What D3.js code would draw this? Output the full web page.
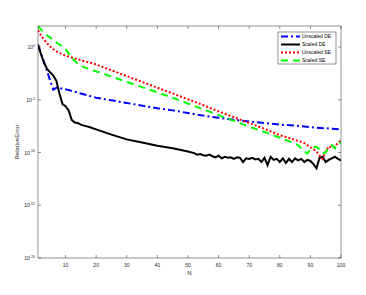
<!DOCTYPE html>
<html>
<head>
<meta charset="utf-8">
<script src="https://cdn.jsdelivr.net/npm/d3@7"></script>
<style>
  body { margin: 0; background: #fff; }
  svg { font-family: "Liberation Sans", Arial, sans-serif; }
</style>
</head>
<body>
<svg id="vis" width="366" height="295"></svg>
<script>
// values, stored as log10 of the relative error
const nUnscaledDE = [1, 2, 3, 4, 5, 6, 7, 8, 9, 10, 12, 15, 20, 25, 30, 35, 40, 45, 50, 55, 60, 65, 70, 75, 80, 85, 90, 95, 100];
const logUnscaledDE = [0.2, -0.6, -1.45, -2.3, -3.2, -4.05, -3.85, -3.9, -3.95, -4.0, -4.15, -4.4, -4.8, -5.05, -5.3, -5.55, -5.8, -6.0, -6.25, -6.5, -6.7, -6.9, -7.05, -7.2, -7.35, -7.45, -7.6, -7.7, -7.8];

const nScaledDE = [1, 2, 3, 4, 5, 6, 7, 8, 9, 10, 11, 12, 13, 14, 15, 16, 18, 20, 25, 30, 35, 40, 45, 50,
    52, 53, 54, 55, 56, 57, 58, 59, 60, 61, 62, 63, 64, 65, 66, 67, 68, 69, 70, 71, 72, 73, 74, 75, 76,
    77, 78, 79, 80, 81, 82, 83, 84, 85, 86, 87, 88, 89, 90, 91, 92, 93, 94, 95, 96, 97, 98, 99, 100];
const logScaledDE = [0.25, -0.7, -1.5, -2.1, -2.4, -2.7, -3.2, -4.4, -5.4, -5.6, -6.0, -6.9, -7.15, -7.2, -7.35, -7.45, -7.6, -7.8, -8.3, -8.75, -9.05, -9.35, -9.6, -9.9,
    -10.05, -10.2, -10.15, -10.25, -10.3, -10.2, -10.35, -10.45, -10.3, -10.55, -10.4, -10.5, -10.45, -10.6, -10.45, -10.5, -10.9, -10.55, -10.6, -10.5, -10.65, -10.6, -10.9, -10.5, -11.2,
    -10.4, -10.7, -10.6, -10.9, -10.55, -11.0, -10.6, -10.9, -10.55, -10.75, -10.6, -10.9, -10.7, -10.8, -11.1, -11.5, -10.5, -10.4, -10.9, -10.7, -10.55, -10.4, -10.6, -10.75];

const nUnscaledSE = [1, 2, 3, 4, 5, 6, 7, 8, 9, 10, 12, 15, 19, 25, 30, 35, 40, 45, 50, 55, 60, 65, 70, 75, 80, 85,
    86, 87, 88, 89, 90, 91, 92, 93, 94, 95, 96, 97, 98, 99, 100];
const logUnscaledSE = [1.6, 1.1, 0.7, 0.35, 0.05, -0.2, -0.4, -0.55, -0.7, -0.8, -0.98, -1.25, -1.55, -2.2, -2.75, -3.3, -3.85, -4.4, -4.95, -5.5, -6.1, -6.65, -7.2, -7.75, -8.35, -8.8,
    -8.9, -8.98, -9.1, -9.3, -9.5, -9.7, -9.9, -10.3, -10.6, -9.9, -9.4, -9.55, -9.4, -9.1, -8.85];

const nScaledSE = [1, 2, 3, 4, 5, 6, 7, 8, 9, 10, 11, 12, 13, 14, 15, 16, 18, 20, 25, 30, 35, 40, 45, 50, 55, 60, 65, 70, 75, 80, 85,
    86, 87, 88, 89, 90, 91, 92, 93, 94, 95, 96, 97, 98, 99, 100];
const logScaledSE = [2.0, 1.65, 1.35, 1.1, 0.9, 0.65, 0.45, 0.25, 0.05, -0.2, -0.6, -1.05, -1.3, -1.6, -1.8, -1.9, -2.1, -2.3, -2.8, -3.3, -3.8, -4.3, -4.8, -5.35, -5.9, -6.45, -7.0, -7.55, -8.05, -8.6, -9.15,
    -9.3, -9.6, -9.9, -10.1, -9.7, -9.5, -9.45, -9.7, -10.05, -10.0, -9.5, -9.3, -9.6, -9.2, -9.0];

const xTicks = [10, 20, 30, 40, 50, 60, 70, 80, 90, 100];
const yTickExps = [0, -5, -10, -15, -20];

const seriesNames = ["Unscaled DE", "Scaled DE", "Unscaled SE", "Scaled SE"];

const svg = d3.select('#vis');
const plotLeft = 38, plotRight = 341, plotTop = 26, plotBottom = 258;
const axisColor = "#262626";

const x = d3.scaleLinear().domain([1, 100]).range([plotLeft, plotRight]);
const y = d3.scaleLog().domain([1e-20, 1e2]).range([plotBottom, plotTop]);

const series = [
    {name: seriesNames[0], n: nUnscaledDE, v: logUnscaledDE, color: "#0000ff", dash: "7,3,2,3"},
    {name: seriesNames[1], n: nScaledDE, v: logScaledDE, color: "#000000", dash: null},
    {name: seriesNames[2], n: nUnscaledSE, v: logUnscaledSE, color: "#ff0000", dash: "2,2"},
    {name: seriesNames[3], n: nScaledSE, v: logScaledSE, color: "#00ff00", dash: "7,5"}
];

svg.append("defs").append("clipPath").attr("id", "clip")
    .append("rect")
    .attr("x", plotLeft).attr("y", plotTop)
    .attr("width", plotRight - plotLeft).attr("height", plotBottom - plotTop);

// curves
const line = d3.line()
    .x(function (d) { return x(d[0]); })
    .y(function (d) { return y(Math.pow(10, d[1])); });

const curveG = svg.append("g").attr("clip-path", "url(#clip)");
series.forEach(function (s) {
    const pts = s.n.map(function (n, i) { return [n, s.v[i]]; });
    curveG.append("path")
        .datum(pts)
        .attr("fill", "none")
        .attr("stroke", s.color)
        .attr("stroke-width", 2)
        .attr("stroke-dasharray", s.dash)
        .attr("d", line);
});

// box
svg.append("rect")
    .attr("x", plotLeft).attr("y", plotTop)
    .attr("width", plotRight - plotLeft).attr("height", plotBottom - plotTop)
    .attr("fill", "none")
    .attr("stroke", axisColor)
    .attr("stroke-width", 0.5);

// x ticks, bottom and top
const tickLen = 3;
xTicks.forEach(function (t) {
    svg.append("line")
        .attr("x1", x(t)).attr("x2", x(t))
        .attr("y1", plotBottom).attr("y2", plotBottom - tickLen)
        .attr("stroke", axisColor).attr("stroke-width", 0.5);
    svg.append("line")
        .attr("x1", x(t)).attr("x2", x(t))
        .attr("y1", plotTop).attr("y2", plotTop + tickLen)
        .attr("stroke", axisColor).attr("stroke-width", 0.5);
    svg.append("text")
        .attr("x", x(t)).attr("y", plotBottom + 9)
        .attr("text-anchor", "middle")
        .attr("font-size", "5px")
        .attr("fill", axisColor)
        .text(t);
});

// y ticks, left and right
yTickExps.forEach(function (e) {
    const yy = y(Math.pow(10, e));
    svg.append("line")
        .attr("x1", plotLeft).attr("x2", plotLeft + tickLen)
        .attr("y1", yy).attr("y2", yy)
        .attr("stroke", axisColor).attr("stroke-width", 0.5);
    svg.append("line")
        .attr("x1", plotRight).attr("x2", plotRight - tickLen)
        .attr("y1", yy).attr("y2", yy)
        .attr("stroke", axisColor).attr("stroke-width", 0.5);
    const lab = svg.append("text")
        .attr("x", plotLeft - 3).attr("y", yy + 2)
        .attr("text-anchor", "end")
        .attr("font-size", "5px")
        .attr("fill", axisColor);
    lab.append("tspan").text("10");
    lab.append("tspan")
        .attr("font-size", "3.6px")
        .attr("dy", -2.2)
        .text(e);
});

// axis labels
svg.append("text")
    .attr("x", (plotLeft + plotRight) / 2).attr("y", 275)
    .attr("text-anchor", "middle")
    .attr("font-size", "6px")
    .attr("fill", axisColor)
    .text("N");

svg.append("text")
    .attr("transform", "translate(19," + ((plotTop + plotBottom) / 2) + ") rotate(-90)")
    .attr("text-anchor", "middle")
    .attr("font-size", "6px")
    .attr("fill", axisColor)
    .text("RelativeError");

// legend
const legX = 278, legY = 32, legW = 58, legH = 32;
const leg = svg.append("g");
leg.append("rect")
    .attr("x", legX).attr("y", legY)
    .attr("width", legW).attr("height", legH)
    .attr("fill", "#fff")
    .attr("stroke", "#262626")
    .attr("stroke-width", 0.5);

series.forEach(function (s, i) {
    const ly = legY + 4.5 + i * 8;
    leg.append("line")
        .attr("x1", legX + 3).attr("x2", legX + 22)
        .attr("y1", ly).attr("y2", ly)
        .attr("stroke", s.color)
        .attr("stroke-width", 2)
        .attr("stroke-dasharray", s.dash);
    leg.append("text")
        .attr("x", legX + 24).attr("y", ly + 1.8)
        .attr("font-size", "5px")
        .attr("fill", "#000")
        .text(s.name);
});
</script>
</body>
</html>
